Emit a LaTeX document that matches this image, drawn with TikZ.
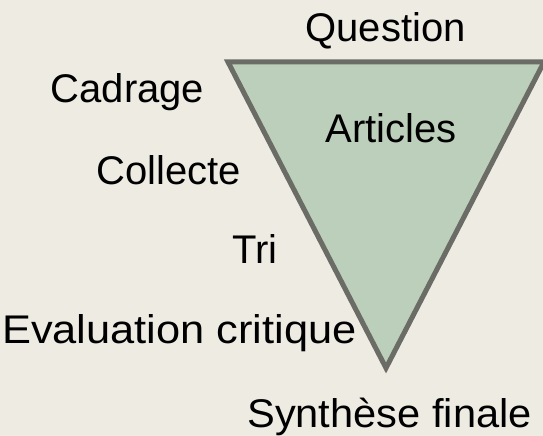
\documentclass[tikz,border=0pt]{standalone}
\usepackage{fontspec}
\setmainfont{Liberation Sans}
\definecolor{bgc}{HTML}{EEEBE3}
\definecolor{fillc}{HTML}{BCCFBB}
\definecolor{linec}{HTML}{6B6C66}
\tikzset{
  lbl/.style={inner sep=0pt, outer sep=0pt, text=black, font=\fontsize{40bp}{48bp}\selectfont},
}
\begin{document}
\begin{tikzpicture}[x=1bp,y=-1bp]
\fill[bgc] (0,0) rectangle (543,436);
\useasboundingbox (0,0) rectangle (543,436);
\coordinate (tl) at (228,62);
\coordinate (tr) at (544,62);
\coordinate (bt) at (386,368);
\draw[line width=5bp, draw=linec, fill=fillc, line join=miter] (tl) -- (tr) -- (bt) -- cycle;
\node[lbl, anchor=base] (question) at (385.5,42) {Question};
\node[lbl, anchor=base] (articles) at (391,143) {Articles};
\node[lbl, anchor=base] (cadrage) at (127.5,103) {Cadrage};
\node[lbl, anchor=base] (collecte) at (169,185) {Collecte};
\node[lbl, anchor=base] (tri) at (255,264) {Tri};
\node[lbl, anchor=base, xscale=1.085] (eval) at (179.5,343) {Evaluation critique};
\node[lbl, anchor=base, xscale=1.04] (synth) at (389.5,427) {Synthèse finale};
\end{tikzpicture}
\end{document}
